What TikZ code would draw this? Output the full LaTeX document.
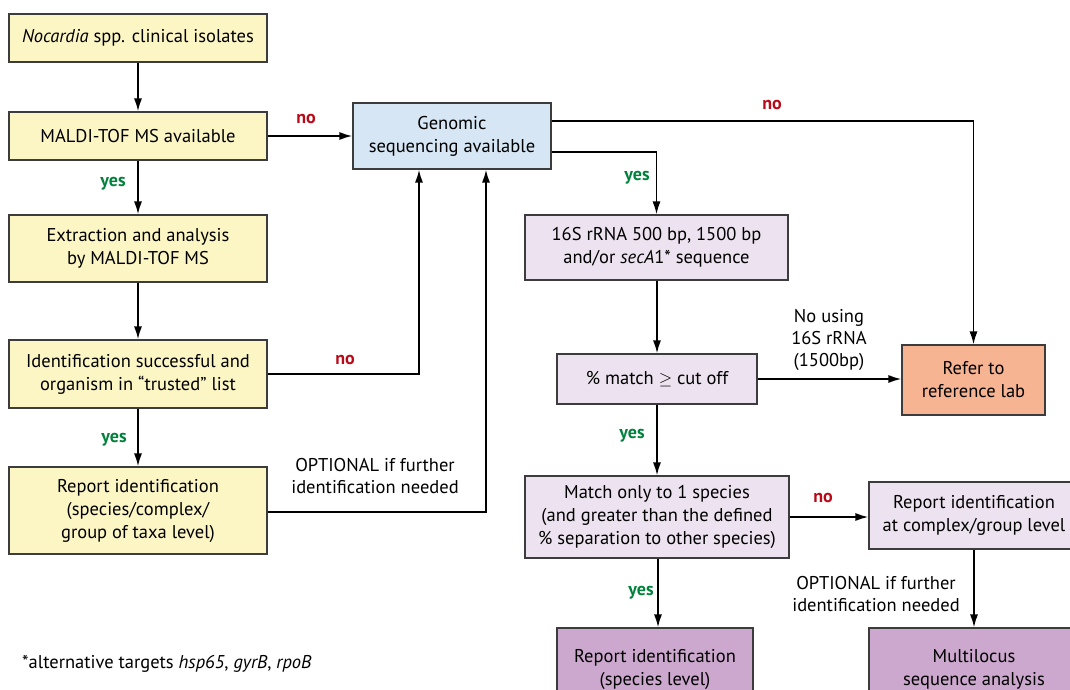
\documentclass[tikz,border=0pt]{standalone}
\usepackage{fontspec}
\setmainfont{PT Sans}
\usetikzlibrary{arrows.meta,calc}

\definecolor{fillyellow}{RGB}{252,245,196}
\definecolor{fillblue}{RGB}{214,230,244}
\definecolor{filllilac}{RGB}{237,226,239}
\definecolor{fillmauve}{RGB}{205,168,206}
\definecolor{fillorange}{RGB}{246,180,147}
\definecolor{yesgreen}{RGB}{0,130,60}
\definecolor{nored}{RGB}{185,10,25}
\definecolor{edgegray}{RGB}{60,60,60}

\tikzset{
  box/.style={draw=edgegray, line width=1.1pt, align=center, inner sep=0pt,
              font=\fontsize{18.5}{23}\selectfont},
  yellowbox/.style={box, fill=fillyellow},
  bluebox/.style={box, fill=fillblue},
  lilacbox/.style={box, fill=filllilac},
  mauvebox/.style={box, fill=fillmauve},
  orangebox/.style={box, fill=fillorange},
  flow/.style={line width=1.7pt, draw=black, -{Latex[length=13pt,width=8pt]}},
  yeslbl/.style={font=\fontsize{18}{20}\selectfont\bfseries, text=yesgreen, inner sep=0pt},
  nolbl/.style={font=\fontsize{18}{20}\selectfont\bfseries, text=nored, inner sep=0pt},
  note/.style={font=\fontsize{18.5}{22}\selectfont, align=center, inner sep=0pt},
}

\begin{document}
\begin{tikzpicture}[x=1pt, y=-1pt]
  \useasboundingbox (0,0) rectangle (1070,690);
  \clip (0,0) rectangle (1070,690);
  \fill[white] (0,0) rectangle (1070,690);

  % left column: MALDI-TOF branch
  \node[yellowbox, minimum width=258pt, minimum height=48pt] (iso) at (138,38)
    {\textit{Nocardia} spp. clinical isolates};
  \node[yellowbox, minimum width=258pt, minimum height=48pt] (maldi) at (138,136)
    {MALDI-TOF MS available};
  \node[yellowbox, minimum width=258pt, minimum height=67pt] (extr) at (138,248.5)
    {Extraction and analysis\\by MALDI-TOF MS};
  \node[yellowbox, minimum width=258pt, minimum height=68pt] (ident) at (138,374)
    {Identification successful and\\organism in “trusted” list};
  \node[yellowbox, minimum width=258pt, minimum height=87pt] (repgrp) at (138,510.5)
    {Report identification\\(species/complex/\\group of taxa level)};

  % sequencing branch
  \node[bluebox, minimum width=198pt, minimum height=66pt] (gen) at (452,136)
    {Genomic\\sequencing available};
  \node[lilacbox, minimum width=263pt, minimum height=65pt] (seq) at (656.5,247.5)
    {16S rRNA 500 bp, 1500 bp\\and/or \textit{secA}1* sequence};
  \node[lilacbox, minimum width=200pt, minimum height=50pt] (pm) at (657,379)
    {\% match $\geq$ cut off};
  \node[orangebox, minimum width=143pt, minimum height=70pt] (ref) at (973.5,380)
    {Refer to\\reference lab};
  \node[lilacbox, minimum width=264pt, minimum height=82pt] (one) at (657,517)
    {Match only to 1 species\\(and greater than the defined\\\% separation to other species)};
  \node[lilacbox, minimum width=210pt, minimum height=67pt] (cplx) at (974,515.5)
    {Report identification\\at complex/group level};
  \node[mauvebox, minimum width=196pt, minimum height=82pt] (sp) at (655,669)
    {Report identification\\(species level)};
  \node[mauvebox, minimum width=210pt, minimum height=82pt] (mlsa) at (974,669)
    {Multilocus\\sequence analysis};

  % connectors
  \draw[flow] (iso) -- (maldi);
  \draw[flow] (maldi) -- (extr);
  \draw[flow] (extr) -- (ident);
  \draw[flow] (ident) -- (repgrp);
  \draw[flow] (maldi.east) -- (maldi.east -| gen.west);
  \draw[flow] (ident.east) -| ([xshift=-33pt]gen.south);
  \draw[flow] (repgrp.east |- 0,512) -| ([xshift=34pt]gen.south);
  \draw[flow] ([yshift=15pt]gen.east) -| (ref.north);
  \draw[flow] ([yshift=-16pt]gen.east) -| (seq.north);
  \draw[flow] (seq.south -| pm.north) -- (pm.north);
  \draw[flow] (pm.east) -- (pm.east -| ref.west);
  \draw[flow] (pm) -- (one);
  \draw[flow] (one.east) -- (one.east -| cplx.west);
  \draw[flow] (one.south -| 658,0) -- (sp.north -| 658,0);
  \draw[flow] (cplx) -- (mlsa);

  % branch labels
  \node[yeslbl] (y1) at (113,184) {yes};
  \node[yeslbl] (y2) at (114,440) {yes};
  \node[yeslbl] (y3) at (637,178) {yes};
  \node[yeslbl] (y4) at (632,436) {yes};
  \node[yeslbl] (y5) at (641,593) {yes};
  \node[nolbl] (n1) at (306,119) {no};
  \node[nolbl] (n2) at (345,360) {no};
  \node[nolbl] (n3) at (772,105) {no};
  \node[nolbl] (n4) at (823,498) {no};

  \node[note] (opt1) at (375,476) {OPTIONAL if further\\identification needed};
  \node[note] (opt2) at (876,594) {OPTIONAL if further\\identification needed};
  \node[note] (alt) at (829,340) {No using\\16S rRNA\\(1500bp)};

  \node[note, anchor=west] (foot) at (22,664)
    {*alternative targets \textit{hsp65}, \textit{gyrB}, \textit{rpoB}};
\end{tikzpicture}
\end{document}
